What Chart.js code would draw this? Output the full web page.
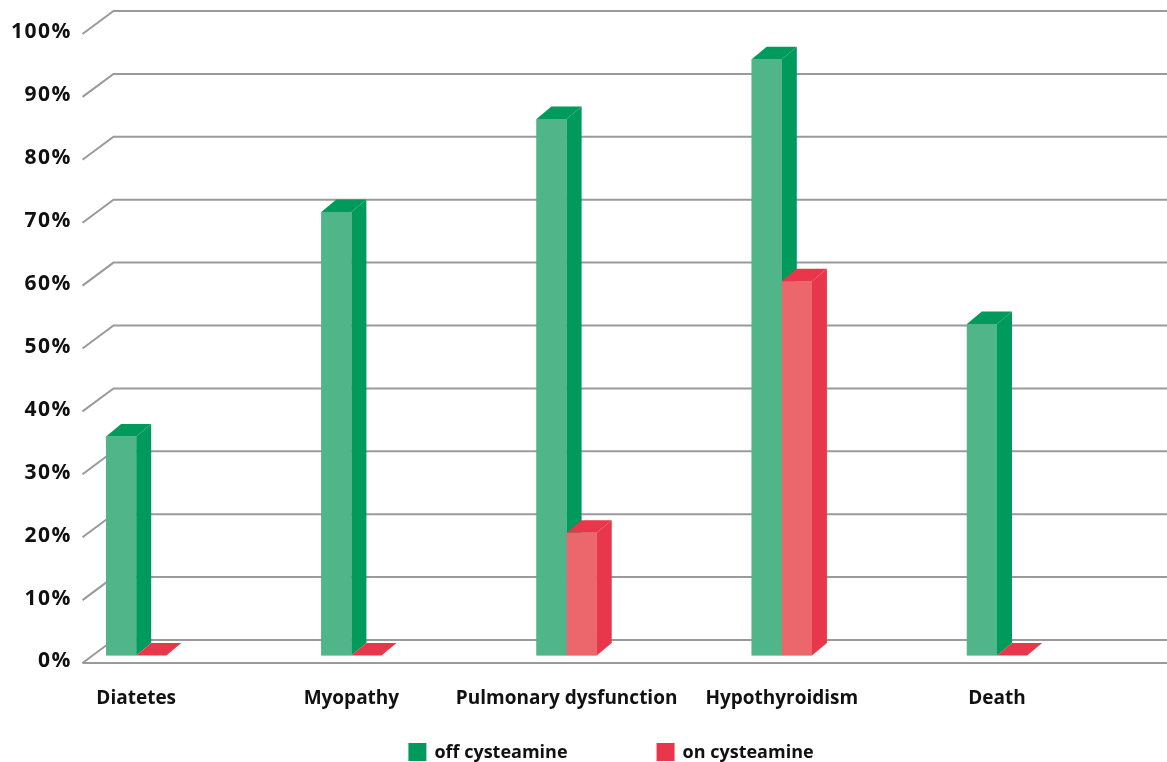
<!DOCTYPE html>
<html>
<head>
<meta charset="utf-8">
<script src="https://cdn.jsdelivr.net/npm/chart.js@4.4.1/dist/chart.umd.min.js"></script>
<style>
  html, body { margin: 0; padding: 0; background: #fff; }
  #wrap { width: 1167px; height: 762px; }
</style>
</head>
<body>
<div id="wrap"><canvas id="chart"></canvas></div>
<script>
const categories = ['Diatetes', 'Myopathy', 'Pulmonary dysfunction', 'Hypothyroidism', 'Death'];
const offCysteamine = [34.8, 70.5, 85.3, 94.8, 52.7];
const onCysteamine = [0, 0, 19.5, 59.5, 0];
const seriesNames = ['off cysteamine', 'on cysteamine'];
const yTickLabels = ['0%', '10%', '20%', '30%', '40%', '50%', '60%', '70%', '80%', '90%', '100%'];

const FONT = '"Open Sans", "DejaVu Sans", sans-serif';

// bar depth and wall depth (fake 3d)
const BAR_DX = 15, BAR_DY = 12.5;
const AXIS_X = 82.5, WALL_X = 113.5;
const FRONT_OFF = 7.5, BACK_OFF = 15.5;

// walls + gridlines, behind the bars
const gridPlugin = {
  id: 'grid3d',
  beforeDatasetsDraw(chart) {
    const ctx = chart.ctx;
    const y = chart.scales.y;
    ctx.save();
    ctx.strokeStyle = '#9a9a9a';
    ctx.lineWidth = 2;
    y.ticks.forEach(t => {
      const p = y.getPixelForValue(t.value);
      ctx.beginPath();
      ctx.moveTo(AXIS_X, p + FRONT_OFF);
      ctx.lineTo(WALL_X, p - BACK_OFF);
      ctx.lineTo(chart.width, p - BACK_OFF);
      ctx.stroke();
    });
    // front edge of the floor
    const p0 = y.getPixelForValue(0);
    ctx.beginPath();
    ctx.moveTo(AXIS_X, p0 + FRONT_OFF);
    ctx.lineTo(chart.width, p0 + FRONT_OFF);
    ctx.stroke();

    ctx.fillStyle = '#111';
    ctx.font = 'bold 21px ' + FONT;
    ctx.letterSpacing = '1.5px';
    ctx.textAlign = 'right';
    ctx.textBaseline = 'middle';
    y.ticks.forEach((t, i) => {
      ctx.fillText(yTickLabels[i], 72, y.getPixelForValue(t.value) + 6);
    });
    ctx.restore();
  }
};

// side + top faces, then front face again so left bars stay behind right ones
const barPlugin = {
  id: 'bars3d',
  afterDatasetsDraw(chart) {
    const ctx = chart.ctx;
    ctx.save();
    chart.data.datasets.forEach((ds, di) => {
      const meta = chart.getDatasetMeta(di);
      meta.data.forEach(bar => {
        const { x, y, base, width } = bar.getProps(['x', 'y', 'base', 'width'], true);
        const l = x - width / 2, r = x + width / 2;
        ctx.fillStyle = ds.sideColor;
        ctx.beginPath();
        ctx.moveTo(r, y);
        ctx.lineTo(r + BAR_DX, y - BAR_DY);
        ctx.lineTo(r + BAR_DX, base - BAR_DY);
        ctx.lineTo(r, base);
        ctx.closePath();
        ctx.fill();
        ctx.beginPath();
        ctx.moveTo(l, y);
        ctx.lineTo(r, y);
        ctx.lineTo(r + BAR_DX, y - BAR_DY);
        ctx.lineTo(l + BAR_DX, y - BAR_DY);
        ctx.closePath();
        ctx.fill();
        bar.draw(ctx);
      });
    });
    ctx.restore();
  }
};

const legendPlugin = {
  id: 'bottomLegend',
  afterDraw(chart) {
    const ctx = chart.ctx;
    ctx.save();
    ctx.font = 'bold 18px ' + FONT;
    const box = 18, gap = 88;
    const items = chart.data.datasets.map(ds => ({
      text: ds.label, color: ds.sideColor,
      w: box + 9 + ctx.measureText(ds.label).width
    }));
    const total = items.reduce((s, it) => s + it.w, 0) + gap * (items.length - 1);
    let x = chart.width / 2 + 28 - total / 2;
    items.forEach(it => {
      ctx.fillStyle = it.color;
      ctx.fillRect(x, 743, box, box);
      ctx.fillStyle = '#111';
      ctx.textBaseline = 'alphabetic';
      ctx.fillText(it.text, x + box + 8, 758);
      x += it.w + gap;
    });
    ctx.restore();
  }
};

new Chart(document.getElementById('chart'), {
  type: 'bar',
  data: {
    labels: categories,
    datasets: [
      { label: seriesNames[0], data: offCysteamine, backgroundColor: '#50b68a', sideColor: '#009a5c' },
      { label: seriesNames[1], data: onCysteamine, backgroundColor: '#ec676b', sideColor: '#e8374b' }
    ]
  },
  options: {
    responsive: true,
    maintainAspectRatio: false,
    animation: false,
    layout: { padding: { left: 28.6, right: 62.4, top: 26.5, bottom: 46.5 } },
    datasets: { bar: { categoryPercentage: 0.28, barPercentage: 1, borderWidth: 0 } },
    scales: {
      x: {
        grid: { display: false, drawTicks: false },
        border: { display: false },
        ticks: { color: '#111', padding: 32, font: { family: FONT, size: 19, weight: 'bold' }, maxRotation: 0, autoSkip: false },
        afterFit: s => { s.height = 60; }
      },
      y: {
        display: false,
        min: 0, max: 100,
        ticks: { stepSize: 10 }
      }
    },
    plugins: { legend: { display: false }, tooltip: { enabled: false } }
  },
  plugins: [gridPlugin, barPlugin, legendPlugin]
});
</script>
</body>
</html>
